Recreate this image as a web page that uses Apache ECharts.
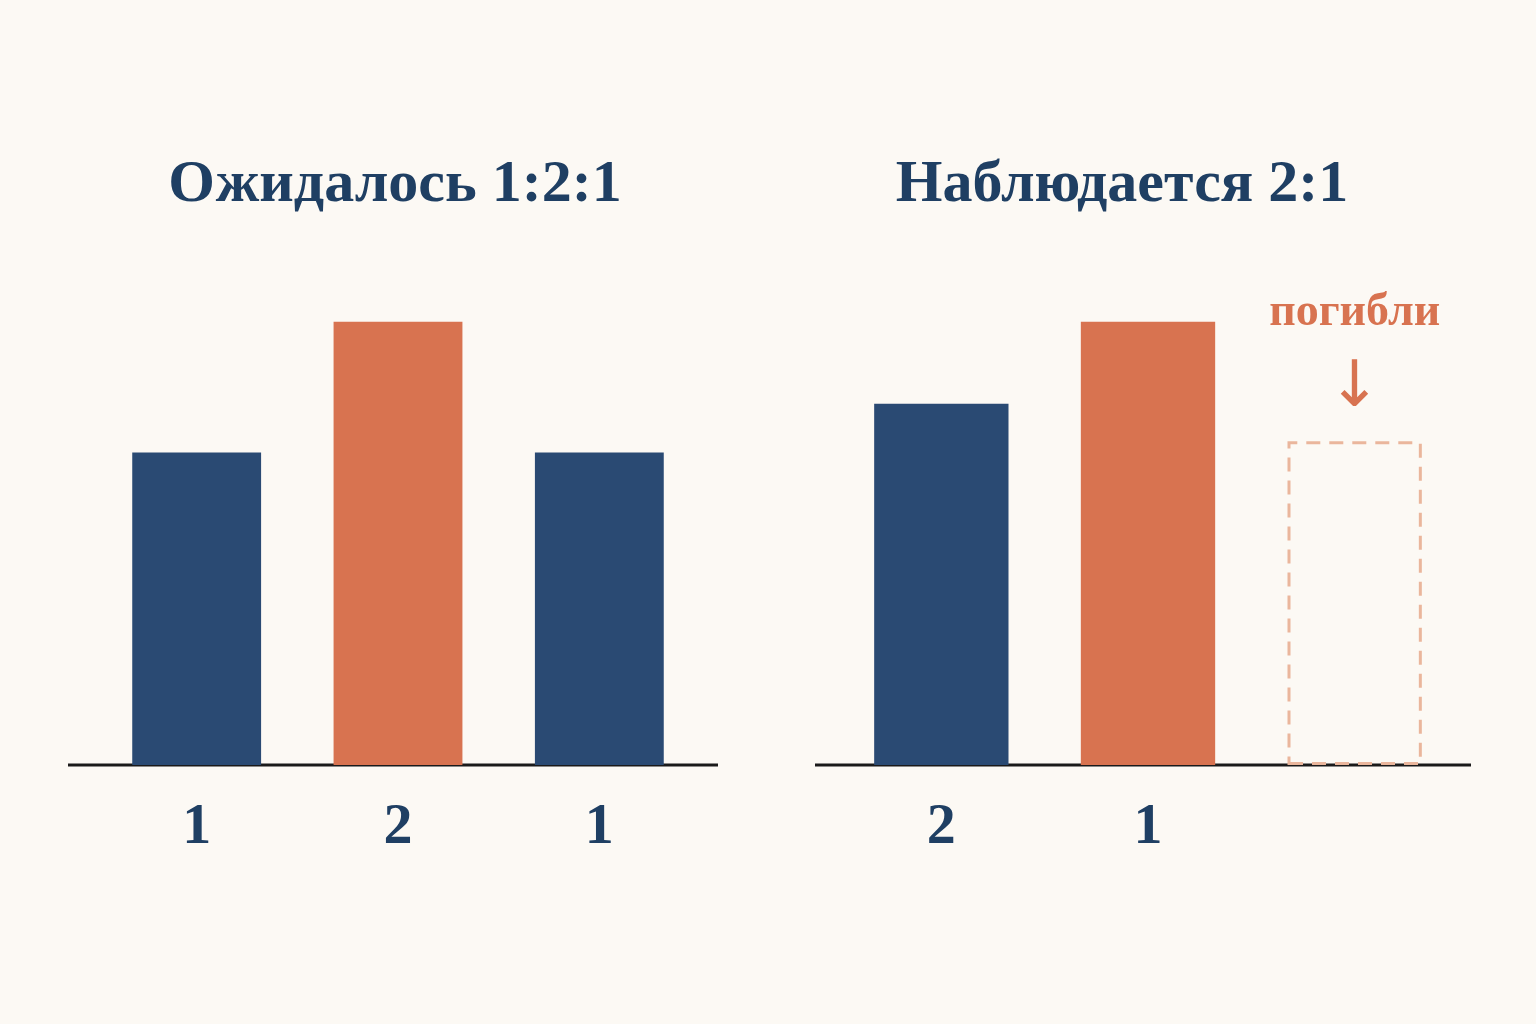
<!DOCTYPE html><html><head><meta charset="utf-8">
<script src="https://cdn.jsdelivr.net/npm/echarts@6/dist/echarts.min.js"></script>
<style>html,body{margin:0;background:#fcf9f4}#c{width:1536px;height:1024px}</style></head><body><div id="c"></div>
<script>
const expectedCats = ['1','2','1'];
const expectedVals = [1.41, 2, 1.41];
const observedCats = ['2','1',''];
const observedVals = [1.63, 2, 1.46];
const titles = ['Ожидалось 1:2:1','Наблюдается 2:1'];
const deadLabel = 'погибли';
const navy='#2a4a73', orange='#d87350', txt='#1f3f63';
const serif='"Liberation Serif","DejaVu Serif",serif';
const chart=echarts.init(document.getElementById('c'));
const colorsL=[navy,orange,navy], colorsR=[navy,orange,null];
const xa=(i,cats)=>({type:'category',gridIndex:i,data:cats,axisLine:{show:false},axisTick:{show:false},
  axisLabel:{fontFamily:serif,fontSize:58,fontWeight:'bold',color:txt,margin:34}});
const ya=i=>({type:'value',gridIndex:i,min:0,max:3,show:false,splitLine:{show:false}});
const ts={fontFamily:serif,fontSize:60,fontWeight:'bold',color:txt};
chart.setOption({
  backgroundColor:'#fcf9f4',
  title:[{text:titles[0],left:390,top:150,textAlign:'center',textStyle:ts},
         {text:titles[1],left:1117,top:150,textAlign:'center',textStyle:ts}],
  grid:[{left:96,width:604,top:100,height:665},{left:838,width:620,top:100,height:665}],
  xAxis:[xa(0,expectedCats),xa(1,observedCats)],
  yAxis:[ya(0),ya(1)],
  series:[
    {type:'bar',xAxisIndex:0,yAxisIndex:0,barWidth:'64%',animation:false,
     data:expectedVals.map((v,i)=>({value:v,itemStyle:{color:colorsL[i]}}))},
    {type:'bar',xAxisIndex:1,yAxisIndex:1,barWidth:'65%',animation:false,
     data:observedVals.map((v,i)=>colorsR[i]?{value:v,itemStyle:{color:colorsR[i]}}:
       {value:v,itemStyle:{color:'rgba(0,0,0,0)',borderColor:'#eab69c',borderWidth:3,borderType:[14,9]},
        label:{show:true,position:'top',distance:14,formatter:'{a|'+deadLabel+'}\n{b|↓}',
          rich:{a:{fontFamily:serif,fontSize:46,fontWeight:'bold',color:orange,lineHeight:76},b:{fontSize:64,color:orange,lineHeight:76,fontFamily:'DejaVu Sans'}}}})}
  ],
  graphic:[
    {type:'line',shape:{x1:68,y1:765,x2:718,y2:765},style:{stroke:'#1a1a1a',lineWidth:3}},
    {type:'line',shape:{x1:815,y1:765,x2:1471,y2:765},style:{stroke:'#1a1a1a',lineWidth:3}}
  ]
});
</script></body></html>
